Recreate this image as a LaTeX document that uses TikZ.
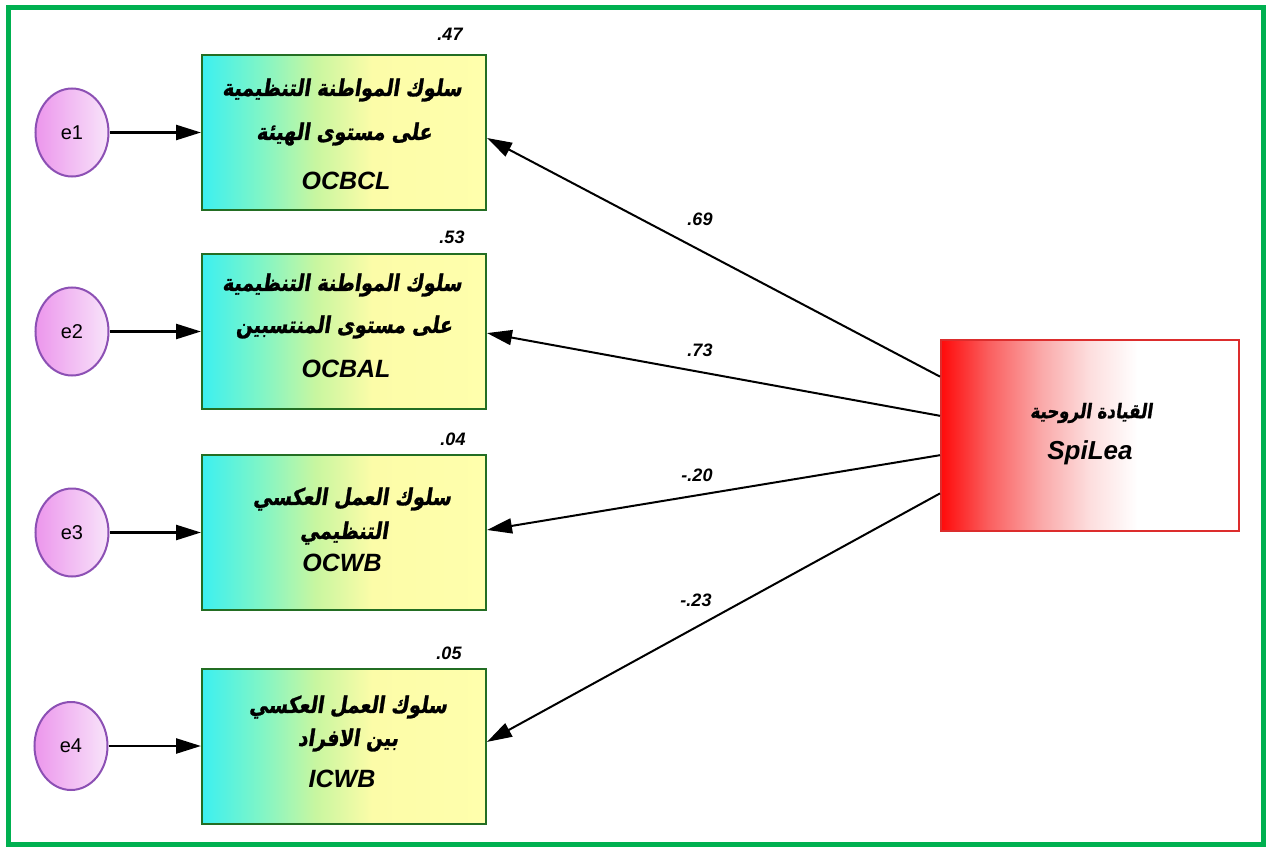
\documentclass[tikz,border=0pt]{standalone}
\usepackage{fontspec}
\setmainfont{Liberation Sans}
\newfontfamily\arabicfont[Script=Arabic,FakeSlant=0.15,FakeStretch=0.83,FakeBold=1.2]{DejaVu Sans Bold}
\TeXXeTstate=1
\usetikzlibrary{arrows.meta,calc,shapes.geometric}
\definecolor{frameG}{RGB}{0,176,80}
\definecolor{boxBorder}{RGB}{35,110,35}
\definecolor{cyanA}{RGB}{60,240,240}
\definecolor{aquaA}{RGB}{125,245,200}
\definecolor{greenA}{RGB}{200,246,160}
\definecolor{yelA}{RGB}{252,252,168}
\definecolor{yelB}{RGB}{255,255,172}
\definecolor{redA}{RGB}{255,10,10}
\definecolor{redB}{RGB}{250,95,95}
\definecolor{redC}{RGB}{250,170,170}
\definecolor{redD}{RGB}{253,222,222}
\definecolor{redBorder}{RGB}{220,45,45}
\definecolor{violA}{RGB}{236,150,236}
\definecolor{violB}{RGB}{248,228,250}
\definecolor{violBorder}{RGB}{140,80,180}
\pgfdeclarehorizontalshading{boxshade}{100bp}{color(0bp)=(cyanA); color(25bp)=(cyanA); color(35bp)=(aquaA); color(45bp)=(greenA); color(55bp)=(yelA); color(75bp)=(yelB); color(100bp)=(yelB)}
\pgfdeclarehorizontalshading{redshade}{100bp}{color(0bp)=(redA); color(25bp)=(redA); color(33bp)=(redB); color(42bp)=(redC); color(50bp)=(redD); color(58bp)=(white); color(100bp)=(white)}
\tikzset{
  obs/.style={rectangle, draw=boxBorder, line width=2pt, shading=boxshade, minimum width=284pt, minimum height=155pt, inner sep=0pt},
  lat/.style={rectangle, draw=redBorder, line width=2pt, shading=redshade, minimum width=298pt, minimum height=191pt, inner sep=0pt},
  err/.style={ellipse, draw=violBorder, line width=2pt, left color=violA, right color=violB, minimum width=73pt, minimum height=88pt, inner sep=0pt, font=\fontsize{20}{24}\selectfont},
  ar/.style={font=\arabicfont\fontsize{23}{27}\selectfont, inner sep=0pt},
  arsmall/.style={font=\arabicfont\fontsize{20}{24}\selectfont, inner sep=0pt},
  en/.style={font=\bfseries\itshape\fontsize{25}{30}\selectfont, inner sep=0pt},
  num/.style={font=\bfseries\itshape\fontsize{18}{22}\selectfont, inner sep=0pt},
  earrow/.style={line width=2.5pt, -{Triangle[length=25pt,width=15pt]}},
  conn/.style={line width=2pt, -{Triangle[length=25pt,width=15pt]}},
}
\newcommand{\numtxt}[2]{\beginL\mbox{#1}\mbox{.}\mbox{#2}\endL}
\begin{document}
\begin{tikzpicture}[x=1pt,y=-1pt]
\useasboundingbox (0,0) rectangle (1267,853);
\fill[white] (0,0) rectangle (1267,853);
\draw[frameG, line width=5pt] (8.5,8) rectangle (1263.5,844);

% squared multiple correlations
\node[num] (r1) at (450,34) {\numtxt{}{47}};
\node[num] (r2) at (452,237) {\numtxt{}{53}};
\node[num] (r3) at (453,439) {\numtxt{}{04}};
\node[num] (r4) at (449,653) {\numtxt{}{05}};

% path coefficients
\node[num] (p1) at (700,219) {\numtxt{}{69}};
\node[num] (p2) at (700,350) {\numtxt{}{73}};
\node[num] (p3) at (697,475) {\numtxt{-}{20}};
\node[num] (p4) at (696,600) {\numtxt{-}{23}};

% observed boxes
\node[obs] (b1) at (344,132.5) {};
\node[obs] (b2) at (344,331.5) {};
\node[obs] (b3) at (344,532.5) {};
\node[obs] (b4) at (344,746) {};

% latent box
\node[lat] (sp) at (1090,435.5) {};

% error terms
\node[err] (e1) at (72,132.5) {e1};
\node[err] (e2) at (72,331.5) {e2};
\node[err] (e3) at (72,532.5) {e3};
\node[err] (e4) at (71,746) {e4};

% Latin texts in boxes
\node[en] (b1t3) at (346,181) {OCBCL};
\node[en] (b2t3) at (346,369) {OCBAL};
\node[en] (b3t3) at (342,563) {OCWB};
\node[en] (b4t3) at (342,779) {ICWB};
\node[en, font=\bfseries\itshape\fontsize{26}{30}\selectfont] (spt2) at (1090,453) {SpiLea};

% Arabic texts in boxes
\node[ar] (b1t1) at (342,90) {\beginR سلوك المواطنة التنظيمية\endR};
\node[ar] (b1t2) at (344,134) {\beginR على مستوى الهيئة\endR};
\node[ar] (b2t1) at (342,285) {\beginR سلوك المواطنة التنظيمية\endR};
\node[ar] (b2t2) at (344,327) {\beginR على مستوى المنتسبين\endR};
\node[ar] (b3t1) at (352,499) {\beginR سلوك العمل العكسي\endR};
\node[ar] (b3t2) at (344,533) {\beginR التنظيمي\endR};
\node[ar] (b4t1) at (348,707) {\beginR سلوك العمل العكسي\endR};
\node[ar] (b4t2) at (348,740) {\beginR بين الافراد\endR};
\node[arsmall] (spt1) at (1091,413) {\beginR القيادة الروحية\endR};

% error arrows
\draw[earrow] (e1) -- (b1);
\draw[earrow] (e2) -- (b2);
\draw[earrow] (e3) -- (b3);
\draw[earrow] (e4) -- (b4);

% paths
\draw[conn] ($(sp.north west)!0.195!(sp.south west)$) -- ($(b1.north east)!0.535!(b1.south east)$);
\draw[conn] ($(sp.north west)!0.398!(sp.south west)$) -- ($(b2.north east)!0.51!(b2.south east)$);
\draw[conn] ($(sp.north west)!0.602!(sp.south west)$) -- ($(b3.north east)!0.484!(b3.south east)$);
\draw[conn] ($(sp.north west)!0.80!(sp.south west)$) -- ($(b4.north east)!0.474!(b4.south east)$);
\end{tikzpicture}
\end{document}
